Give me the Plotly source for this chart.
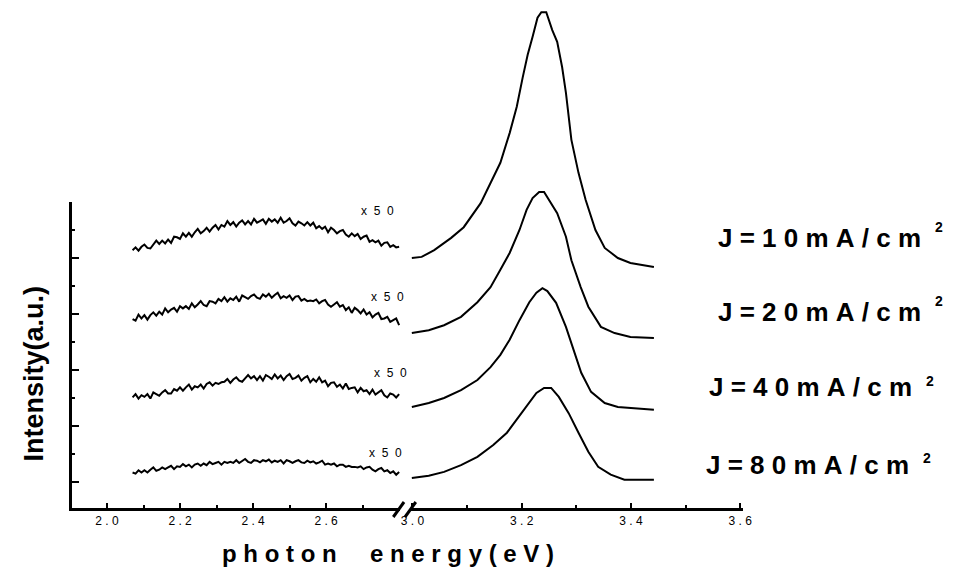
import numpy as np
import plotly.graph_objects as go

W, H = 960, 577
FONT = "Liberation Sans, Arial, sans-serif"
NB = "\u00a0"

# ---------------- data ----------------
# left (x50 magnified) segment: photon energy grid (eV)
left_energy = np.round(np.linspace(2.07, 2.80, 91), 4)

left_j10 = [41.4, 41.9, 41.3, 42.0, 42.4, 41.8, 41.7, 42.4, 43.1, 42.5,
            43.1, 42.6, 43.3, 42.7, 43.8, 43.7, 43.4, 44.4, 43.8, 44.5,
            43.8, 44.6, 45.2, 44.4, 44.8, 45.4, 44.7, 45.4, 45.9, 45.1,
            45.9, 45.6, 46.6, 45.9, 46.4, 45.6, 46.3, 46.7, 46.0, 46.6,
            46.0, 47.0, 46.3, 46.6, 46.9, 46.1, 47.0, 46.5, 46.9, 46.3,
            47.2, 46.3, 46.6, 47.1, 46.2, 45.8, 46.5, 46.2, 45.8, 46.4,
            45.8, 46.3, 45.3, 45.7, 45.2, 45.6, 44.6, 45.4, 45.0, 44.4,
            44.8, 45.0, 44.2, 43.8, 44.4, 43.9, 44.3, 43.4, 43.8, 44.0,
            42.9, 43.2, 42.8, 43.1, 42.2, 42.7, 42.8, 42.0, 42.3, 41.9,
            42.0]
left_j20 = [29.1, 28.8, 29.9, 29.2, 29.8, 29.0, 29.8, 30.3, 29.7, 30.4,
            29.9, 31.0, 30.3, 30.8, 31.1, 30.4, 31.4, 31.0, 31.4, 30.9,
            31.9, 31.2, 31.7, 32.3, 31.6, 31.4, 32.3, 32.2, 31.9, 32.7,
            32.3, 33.0, 32.2, 32.8, 32.5, 33.1, 32.2, 33.3, 33.0, 32.7,
            33.2, 33.5, 32.9, 32.7, 33.5, 33.1, 33.6, 32.9, 33.4, 33.8,
            32.8, 33.2, 32.9, 33.3, 32.5, 33.1, 33.2, 32.4, 32.7, 32.3,
            32.4, 32.3, 32.6, 31.9, 32.3, 32.5, 31.7, 31.3, 31.7, 32.1,
            31.3, 31.6, 30.7, 31.2, 30.2, 31.1, 30.7, 30.1, 30.8, 29.9,
            30.3, 29.4, 29.9, 30.2, 29.1, 29.2, 29.5, 28.6, 28.9, 29.2,
            28.0]
left_j40 = [15.1, 15.7, 14.9, 15.5, 15.2, 15.7, 14.9, 16.0, 15.7, 15.4,
            16.0, 16.4, 15.8, 15.8, 16.6, 16.3, 16.9, 16.3, 16.9, 17.4,
            16.5, 17.1, 16.9, 17.4, 16.7, 17.5, 17.8, 17.2, 17.7, 17.5,
            17.8, 17.9, 18.4, 17.7, 18.3, 18.7, 18.1, 17.9, 18.5, 19.1,
            18.5, 18.9, 18.2, 18.9, 18.1, 19.1, 18.8, 18.4, 19.2, 18.5,
            19.0, 18.2, 18.9, 19.3, 18.4, 18.6, 19.0, 18.1, 18.6, 18.9,
            17.8, 18.4, 17.9, 18.7, 17.8, 18.1, 17.1, 17.7, 17.8, 17.0,
            17.4, 16.7, 17.6, 16.6, 16.8, 16.9, 16.0, 16.8, 16.2, 16.4,
            15.7, 16.5, 15.6, 16.0, 16.4, 15.5, 15.1, 15.8, 15.6, 15.1,
            15.7]
left_j80 = [1.7, 1.5, 2.1, 1.7, 2.1, 1.7, 2.2, 2.6, 2.0, 2.2,
            2.6, 2.3, 2.6, 2.9, 2.3, 2.8, 2.7, 3.2, 2.8, 3.1,
            2.6, 3.1, 3.3, 2.9, 3.3, 3.0, 3.6, 3.2, 3.4, 3.6,
            3.1, 3.6, 3.4, 3.6, 3.4, 3.9, 3.4, 3.7, 4.1, 3.6,
            3.4, 3.9, 3.8, 3.5, 3.9, 3.7, 4.0, 3.5, 3.8, 3.6,
            3.9, 3.3, 3.9, 3.7, 3.4, 3.7, 3.9, 3.5, 3.4, 3.8,
            3.5, 3.7, 3.3, 3.5, 3.8, 3.1, 3.3, 3.1, 3.3, 2.8,
            3.1, 3.1, 2.7, 2.9, 2.7, 2.7, 2.6, 2.8, 2.3, 2.6,
            2.7, 2.2, 1.9, 2.3, 2.5, 1.9, 2.1, 1.6, 1.9, 1.3,
            1.8]

# right segment: main emission peaks
peak_j10_x = [2.999, 3.017, 3.040, 3.071, 3.094, 3.107, 3.125, 3.143, 3.161, 3.178,
              3.191, 3.202, 3.211, 3.220, 3.229, 3.236, 3.245, 3.256, 3.265, 3.274,
              3.281, 3.291, 3.304, 3.317, 3.335, 3.352, 3.376, 3.399, 3.435, 3.442]
peak_j10_y = [40.0, 40.2, 41.4, 43.6, 45.5, 47.3, 49.8, 53.4, 57.0, 62.3,
              67.0, 72.3, 76.3, 79.5, 82.9, 83.9, 83.9, 80.7, 78.6, 74.1,
              69.5, 61.1, 55.2, 50.4, 45.0, 41.8, 40.0, 39.1, 38.6, 38.4]

peak_j20_x = [2.999, 3.030, 3.058, 3.089, 3.119, 3.143, 3.161, 3.178, 3.196, 3.209,
              3.220, 3.232, 3.241, 3.250, 3.265, 3.281, 3.291, 3.308, 3.322, 3.345,
              3.370, 3.399, 3.442]
peak_j20_y = [26.6, 27.1, 28.0, 29.5, 32.1, 34.8, 37.9, 40.9, 45.0, 48.6,
              50.7, 51.8, 51.8, 50.4, 48.0, 43.8, 39.6, 34.8, 31.3, 27.7,
              26.6, 25.9, 25.7]

peak_j40_x = [2.999, 3.030, 3.058, 3.089, 3.119, 3.143, 3.161, 3.178, 3.196, 3.214,
              3.227, 3.238, 3.247, 3.263, 3.281, 3.295, 3.309, 3.327, 3.352, 3.376,
              3.442]
peak_j40_y = [13.4, 14.1, 15.0, 16.4, 18.2, 20.5, 22.7, 25.4, 28.9, 32.1,
              33.8, 34.6, 34.1, 32.0, 27.7, 23.6, 19.5, 16.1, 14.1, 13.4,
              12.9]

peak_j80_x = [2.999, 3.030, 3.058, 3.089, 3.119, 3.148, 3.173, 3.191, 3.209, 3.227,
              3.241, 3.254, 3.268, 3.286, 3.304, 3.322, 3.340, 3.363, 3.388, 3.442]
peak_j80_y = [0.7, 1.1, 1.8, 3.0, 4.5, 6.6, 8.8, 11.1, 13.4, 15.9,
              16.8, 16.8, 15.2, 12.3, 8.8, 5.4, 2.7, 1.3, 0.4, 0.4]

current_labels = ["J = 1 0 m A / c m", "J = 2 0 m A / c m",
                  "J = 4 0 m A / c m", "J = 8 0 m A / c m"]
magnification_label = "x 5 0"

left_ticks = [2.0, 2.2, 2.4, 2.6]
right_ticks = [3.0, 3.2, 3.4, 3.6]
intensity_ticks = [0, 10, 20, 30, 40, 50]

# ---------------- figure ----------------
def px(x):
    return x / W


def py(y):
    return 1 - y / H


fig = go.Figure()
line = dict(color="black", width=2)

for ys in [left_j10, left_j20, left_j40, left_j80]:
    fig.add_trace(go.Scatter(x=left_energy, y=ys, mode="lines", line=line,
                             xaxis="x", yaxis="y2", showlegend=False, hoverinfo="skip"))

for xs, ys in [(peak_j10_x, peak_j10_y), (peak_j20_x, peak_j20_y),
               (peak_j40_x, peak_j40_y), (peak_j80_x, peak_j80_y)]:
    fig.add_trace(go.Scatter(x=xs, y=ys, mode="lines", line=line,
                             xaxis="x2", yaxis="y2", showlegend=False, hoverinfo="skip"))

# invisible anchor trace so the framed intensity axis (x / y) gets drawn
fig.add_trace(go.Scatter(x=[left_ticks[0]], y=[intensity_ticks[0]], mode="markers",
                         marker=dict(opacity=0, size=1), xaxis="x", yaxis="y",
                         showlegend=False, hoverinfo="skip"))


def spaced(t):
    return NB.join(list(t))


ax_common = dict(showline=True, linecolor="black", linewidth=3, ticks="inside",
                 ticklen=5, tickwidth=2, tickcolor="black", showgrid=False,
                 zeroline=False, anchor="y",
                 tickfont=dict(family=FONT, size=12, color="black"))

fig.update_layout(
    width=W, height=H, autosize=False,
    margin=dict(l=0, r=0, t=0, b=0),
    paper_bgcolor="white", plot_bgcolor="rgba(0,0,0,0)",
    font=dict(family=FONT, color="black"),
    xaxis=dict(domain=[63 / W, 398 / W], range=[1.9034, 2.8027],
               tickvals=left_ticks, ticktext=[spaced(f"{v:.1f}") for v in left_ticks],
               minor=dict(tickvals=[2.1, 2.3, 2.5, 2.7], ticks="inside", ticklen=3,
                          tickwidth=2, tickcolor="black"),
               **ax_common),
    xaxis2=dict(domain=[409 / W, 748 / W], range=[2.9973, 3.6054],
                tickvals=right_ticks, ticktext=[spaced(f"{v:.1f}") for v in right_ticks],
                minor=dict(tickvals=[3.1, 3.3, 3.5], ticks="inside", ticklen=3,
                           tickwidth=2, tickcolor="black"),
                **ax_common),
    yaxis=dict(domain=[py(508), py(202)], range=[-4.64, 50], anchor="x",
               showline=True, linecolor="black", linewidth=3,
               ticks="inside", ticklen=7, tickwidth=2, tickcolor="black",
               tickvals=intensity_ticks, showticklabels=False,
               minor=dict(tickvals=[5, 15, 25, 35, 45], ticks="inside", ticklen=3,
                          tickwidth=2, tickcolor="black"),
               showgrid=False, zeroline=False),
    yaxis2=dict(domain=[0, 1], range=[(482 - 577) / 5.6, 482 / 5.6], anchor="x",
                visible=False),
)

# axis break marks
for x0 in (391, 403):
    fig.add_shape(type="line", xref="paper", yref="paper",
                  x0=px(x0), y0=py(517), x1=px(x0 + 11), y1=py(502),
                  line=dict(color="black", width=3))

ann = []
ann.append(dict(text="<b>Intensity(a.u.)</b>", x=px(24), y=py(374), textangle=-90,
                font=dict(size=27)))
ann.append(dict(text="<b>" + NB.join(list("photon")) + NB * 5 + NB.join(list("energy(eV)")) + "</b>",
                x=px(386), y=py(553), font=dict(size=24)))

for (xc, yc) in [(375, 211), (385, 297), (388, 373), (383, 453)]:
    ann.append(dict(text=magnification_label.replace(" ", NB * 2), x=px(xc), y=py(yc),
                    font=dict(size=12)))

for lab, (xr, yc, xs, ys) in zip(current_labels,
                                 [(931, 238, 948, 227), (931, 312, 948, 301),
                                  (922, 387, 939, 381), (919, 465, 936, 458)]):
    ann.append(dict(text="<b>" + lab.replace(" ", NB) + "</b>", x=px(xr), y=py(yc),
                    xanchor="right", font=dict(size=26)))
    ann.append(dict(text="<b>2</b>", x=px(xs), y=py(ys), font=dict(size=14)))

for a in ann:
    a.setdefault("xanchor", "center")
    a.update(xref="paper", yref="paper", yanchor="middle", showarrow=False)
    a["font"] = dict(family=FONT, color="black", **a["font"])
    fig.add_annotation(**a)

fig.write_html("out.html")
